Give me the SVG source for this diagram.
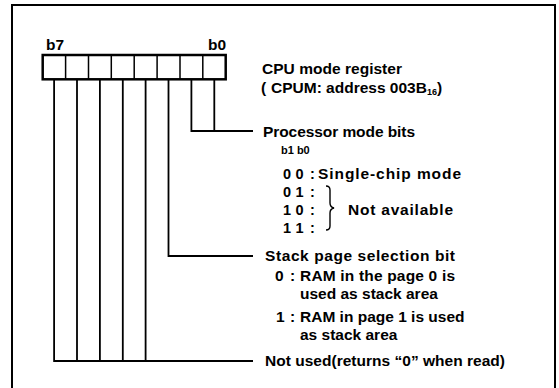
<svg xmlns="http://www.w3.org/2000/svg" width="559" height="388" viewBox="0 0 559 388">
<style>
text{font-family:"Liberation Sans",Arial,Helvetica,sans-serif;font-weight:bold;font-size:15.5px;fill:#000}
.sm{font-size:11px}
.sub{font-size:9px}
.dg{font-size:14.5px}
.ln{fill:none;stroke:#000;stroke-width:1.8}
.frame{fill:none;stroke:#000;stroke-width:2}
.reg{fill:#fff;stroke:#000;stroke-width:2.5}
.cell{stroke:#000;stroke-width:1.5}
</style>
<rect width="559" height="388" fill="#fff"/>
<path class="frame" d="M12,388 V5 H555 V388"/>
<g id="register">
<rect class="reg" x="42.7" y="55" width="183" height="24.3"/>
<path class="cell" d="M65.6,55v24.3M88.5,55v24.3M111.3,55v24.3M134.2,55v24.3M157.1,55v24.3M180,55v24.3M202.8,55v24.3"/>
<text x="46" y="50">b7</text>
<text x="208" y="50">b0</text>
</g>
<g id="connectors">
<path class="ln" d="M214.3,79V131M191.4,79V131H253"/>
<path class="ln" d="M168.5,79V256H253"/>
<path class="ln" d="M145.6,79V361M122.8,79V361M99.9,79V361M77,79V361M54.1,79V361H253"/>
</g>
<g id="title">
<text x="262" y="74" textLength="140" lengthAdjust="spacing">CPU mode register</text>
<text x="261" y="93">(<tspan x="271">CPUM: address 003B</tspan><tspan class="sub" dy="2">16</tspan><tspan dy="-2">)</tspan></text>
</g>
<g id="processor-mode-bits">
<text x="263" y="137" textLength="152" lengthAdjust="spacing">Processor mode bits</text>
<text class="sm" x="281" y="154">b1 b0</text>
<text class="dg" y="179"><tspan x="283">0</tspan><tspan x="295.5">0</tspan><tspan x="310">:</tspan><tspan x="318" style="font-size:15.5px" textLength="143" lengthAdjust="spacing">Single-chip mode</tspan></text>
<text class="dg" y="197"><tspan x="283">0</tspan><tspan x="295.5">1</tspan><tspan x="310">:</tspan></text>
<text class="dg" y="215"><tspan x="283">1</tspan><tspan x="295.5">0</tspan><tspan x="310">:</tspan><tspan x="348" style="font-size:15.5px" textLength="105" lengthAdjust="spacing">Not available</tspan></text>
<text class="dg" y="233"><tspan x="283">1</tspan><tspan x="295.5">1</tspan><tspan x="310">:</tspan></text>
<path class="ln" style="stroke-width:1.4" d="M326,186q4,0 4,4v13q0,4 4,5q-4,1 -4,5v13q0,4 -4,4"/>
</g>
<g id="stack-page-selection-bit">
<text x="265" y="261" textLength="190" lengthAdjust="spacing">Stack page selection bit</text>
<text y="281"><tspan x="275">0</tspan><tspan x="290">:</tspan><tspan x="300" textLength="155" lengthAdjust="spacing">RAM in the page 0 is</tspan></text>
<text x="300" y="299">used as stack area</text>
<text y="322"><tspan x="276">1</tspan><tspan x="290">:</tspan><tspan x="300">RAM in page 1 is used</tspan></text>
<text x="300" y="340">as stack area</text>
</g>
<g id="not-used">
<text x="265" y="365.5" textLength="240" lengthAdjust="spacing">Not used(returns “0” when read)</text>
</g>
</svg>
